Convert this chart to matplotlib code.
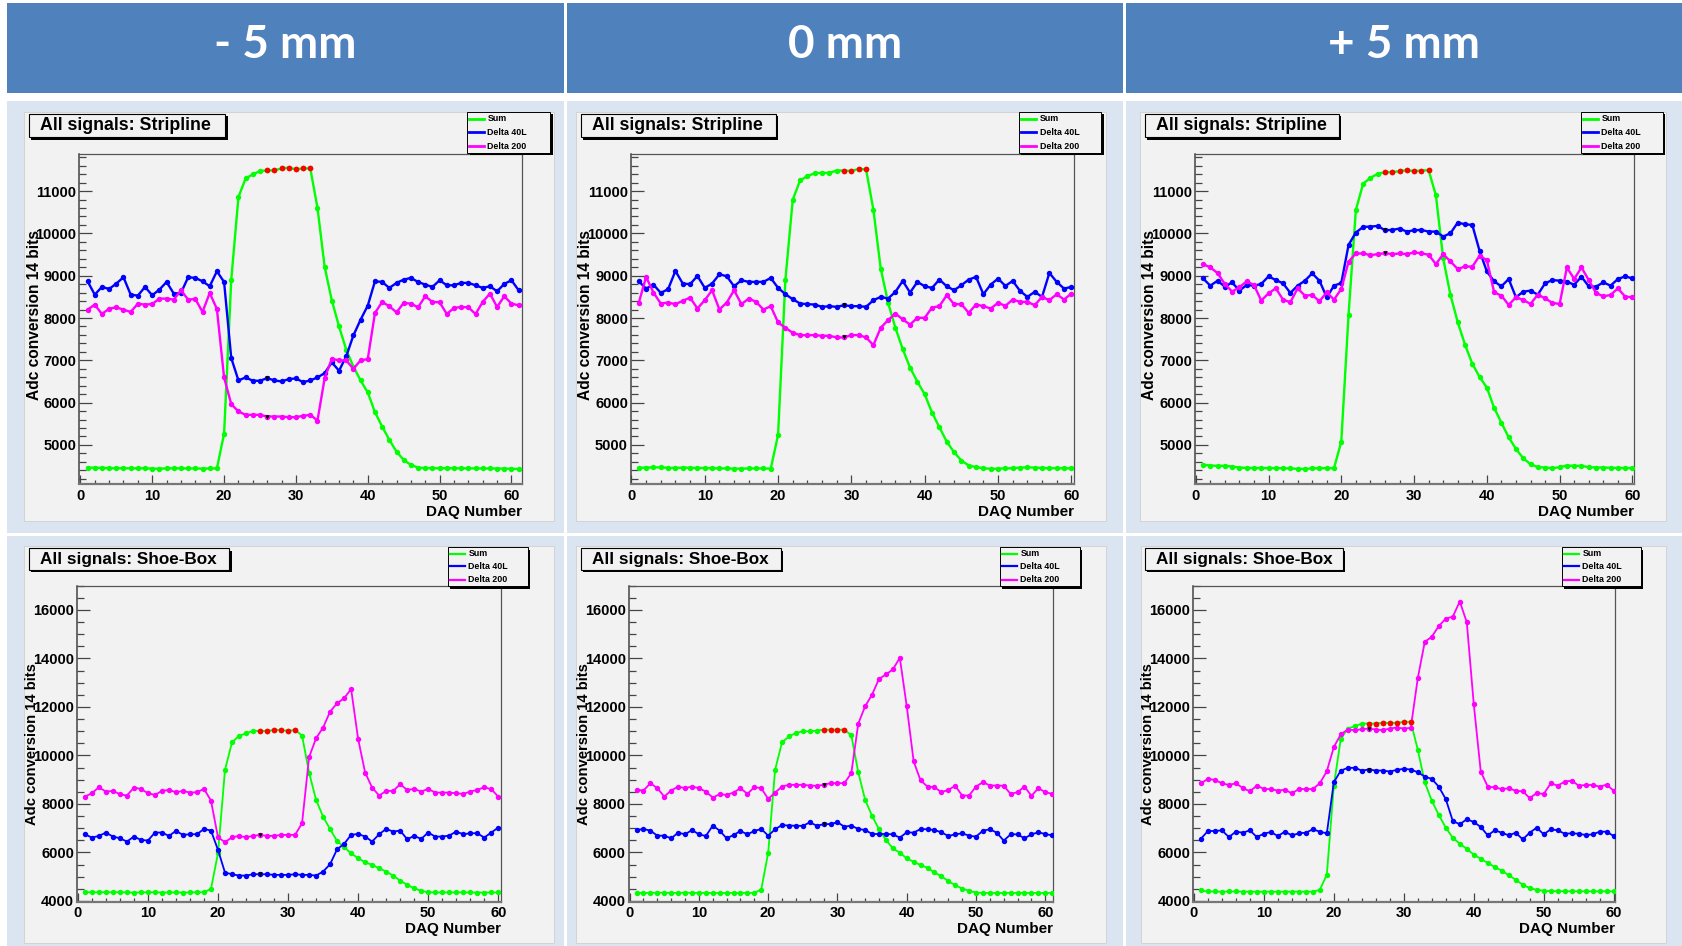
import numpy as np
import matplotlib
matplotlib.use("Agg")
import matplotlib.pyplot as plt
from matplotlib.patches import Rectangle
from matplotlib.lines import Line2D
from matplotlib.ticker import MultipleLocator

# ---------------- data ----------------
columns = ["- 5 mm", "0 mm", "+ 5 mm"]
row_titles = ["All signals: Stripline", "All signals: Shoe-Box"]
series_names = ["Sum", "Delta 40L", "Delta 200"]
x_title = "DAQ Number"
y_title = "Adc conversion 14 bits"

# Stripline, -5 mm (DAQ 1..61)
sum_strip_m5 = [4465, 4462, 4458, 4450, 4450, 4450, 4448, 4448, 4448, 4440,
                4440, 4445, 4448, 4448, 4445, 4445, 4440, 4445, 4445, 5262,
                8908, 10858, 11300, 11395, 11474, 11490, 11490, 11537, 11552, 11513,
                11537, 11537, 10605, 9208, 8411, 7803, 7251, 6850, 6525, 6240,
                5775, 5436, 5120, 4843, 4646, 4528, 4465, 4452, 4450, 4450,
                4450, 4450, 4448, 4448, 4445, 4445, 4445, 4442, 4440, 4438, 4432]
d40_strip_m5 = [8869, 8553, 8735, 8687, 8814, 8964, 8553, 8530, 8735, 8538,
                8672, 8853, 8577, 8593, 8964, 8948, 8869, 8751, 9106, 8853,
                7054, 6525, 6596, 6517, 6517, 6580, 6525, 6501, 6556, 6572,
                6485, 6525, 6596, 6698, 6951, 6754, 7093, 7590, 7961, 8293,
                8869, 8853, 8711, 8830, 8908, 8948, 8853, 8790, 8735, 8893,
                8774, 8774, 8830, 8830, 8774, 8711, 8751, 8632, 8806, 8893, 8656]
d200_strip_m5 = [8198, 8316, 8095, 8222, 8253, 8198, 8143, 8340, 8316, 8332,
                 8459, 8459, 8435, 8656, 8435, 8451, 8143, 8593, 8214, 6596,
                 5964, 5791, 5712, 5712, 5712, 5672, 5672, 5672, 5656, 5656,
                 5688, 5712, 5577, 6580, 7038, 6998, 6998, 6801, 6998, 7030,
                 8119, 8380, 8277, 8135, 8356, 8340, 8253, 8514, 8380, 8372,
                 8095, 8238, 8261, 8253, 8095, 8380, 8577, 8261, 8514, 8340, 8301]

# Stripline, 0 mm (DAQ 1..60)
sum_strip_0 = [4460, 4465, 4470, 4470, 4460, 4455, 4465, 4460, 4455, 4455,
               4450, 4445, 4445, 4440, 4440, 4445, 4445, 4445, 4440, 5237,
               8909, 10796, 11252, 11354, 11425, 11432, 11432, 11487, 11487, 11472,
               11527, 11511, 10560, 9168, 8366, 7769, 7266, 6825, 6495, 6196,
               5764, 5418, 5080, 4828, 4632, 4514, 4475, 4451, 4435, 4440,
               4445, 4450, 4465, 4470, 4465, 4455, 4450, 4450, 4448, 4448]
d40_strip_0 = [8869, 8696, 8791, 8594, 8681, 9113, 8815, 8799, 8995, 8712,
               8815, 9035, 8987, 8751, 8893, 8854, 8854, 8854, 8948, 8712,
               8563, 8445, 8343, 8327, 8319, 8264, 8280, 8264, 8303, 8280,
               8280, 8264, 8421, 8500, 8461, 8618, 8877, 8602, 8854, 8751,
               8712, 8909, 8751, 8657, 8775, 8909, 8972, 8563, 8791, 8932,
               8759, 8877, 8641, 8500, 8618, 8500, 9066, 8854, 8696, 8736]
d200_strip_0 = [8358, 8972, 8602, 8343, 8366, 8327, 8406, 8484, 8225, 8421,
                8657, 8201, 8366, 8657, 8327, 8461, 8382, 8201, 8280, 7895,
                7769, 7651, 7596, 7596, 7596, 7580, 7580, 7541, 7541, 7596,
                7596, 7541, 7360, 7769, 7950, 8107, 7966, 7847, 8005, 8005,
                8248, 8280, 8539, 8327, 8327, 8123, 8319, 8280, 8225, 8358,
                8288, 8437, 8382, 8382, 8303, 8500, 8421, 8563, 8437, 8578]

# Stripline, +5 mm (DAQ 1..60)
sum_strip_p5 = [4530, 4514, 4506, 4506, 4490, 4467, 4455, 4455, 4455, 4451,
                4451, 4451, 4445, 4435, 4435, 4445, 4451, 4451, 4451, 5079,
                8082, 10553, 11173, 11314, 11408, 11447, 11447, 11471, 11494, 11471,
                11486, 11494, 10898, 9408, 8545, 7902, 7369, 6922, 6608, 6357,
                5879, 5526, 5180, 4906, 4686, 4545, 4475, 4467, 4451, 4475,
                4514, 4506, 4506, 4475, 4467, 4467, 4460, 4455, 4455, 4451]
d40_strip_p5 = [8937, 8765, 8882, 8741, 8843, 8647, 8780, 8765, 8804, 8984,
                8898, 8820, 8592, 8765, 8882, 9055, 8882, 8490, 8765, 8827,
                9729, 10020, 10153, 10161, 10176, 10075, 10082, 10114, 10043, 10075,
                10082, 10043, 10043, 9926, 10004, 10255, 10216, 10200, 9588, 9102,
                8867, 8749, 8922, 8490, 8624, 8647, 8553, 8820, 8898, 8882,
                8859, 8788, 8976, 8749, 8741, 8843, 8765, 8922, 8984, 8937]
d200_strip_p5 = [9275, 9196, 9063, 8804, 8624, 8726, 8867, 8780, 8412, 8584,
                 8702, 8435, 8373, 8702, 8529, 8545, 8396, 8608, 8435, 8686,
                 9330, 9526, 9526, 9486, 9510, 9533, 9510, 9526, 9510, 9549,
                 9533, 9494, 9275, 9510, 9338, 9157, 9220, 9212, 9471, 9369,
                 8608, 8529, 8310, 8490, 8427, 8333, 8553, 8467, 8357, 8333,
                 9196, 8922, 9196, 8898, 8592, 8514, 8545, 8702, 8506, 8490]

# Shoe-Box, -5 mm (DAQ 1..60)
sum_shoe_m5 = [4357, 4357, 4357, 4357, 4357, 4357, 4350, 4345, 4350, 4357,
               4357, 4345, 4350, 4350, 4345, 4350, 4357, 4357, 4495, 5965,
               9402, 10543, 10804, 10914, 11010, 11010, 11010, 11051, 11051, 11010,
               11051, 10818, 9292, 8165, 7478, 6955, 6474, 6213, 5965, 5759,
               5594, 5484, 5347, 5209, 5044, 4838, 4660, 4522, 4412, 4357,
               4350, 4350, 4350, 4350, 4350, 4350, 4345, 4345, 4350, 4350]
d40_shoe_m5 = [6749, 6612, 6680, 6818, 6653, 6584, 6447, 6653, 6515, 6488,
               6818, 6818, 6680, 6887, 6722, 6749, 6749, 6969, 6900, 6103,
               5168, 5099, 5044, 5044, 5099, 5099, 5099, 5072, 5072, 5072,
               5099, 5072, 5072, 5044, 5209, 5512, 6131, 6351, 6722, 6763,
               6653, 6447, 6749, 6969, 6859, 6900, 6543, 6680, 6557, 6818,
               6653, 6653, 6694, 6859, 6749, 6790, 6790, 6612, 6818, 7024]
d200_shoe_m5 = [8302, 8440, 8687, 8509, 8536, 8399, 8344, 8674, 8618, 8440,
                8371, 8536, 8577, 8481, 8536, 8467, 8481, 8618, 8137, 6625,
                6419, 6625, 6680, 6625, 6680, 6722, 6680, 6680, 6722, 6722,
                6722, 7203, 9924, 10708, 11148, 11807, 12151, 12357, 12742, 10680,
                9292, 8674, 8344, 8536, 8536, 8811, 8577, 8618, 8509, 8618,
                8467, 8467, 8467, 8440, 8412, 8509, 8577, 8687, 8605, 8302]

# Shoe-Box, 0 mm (DAQ 1..61)
sum_shoe_0 = [4331, 4331, 4331, 4340, 4340, 4331, 4331, 4340, 4331, 4331,
              4331, 4325, 4325, 4325, 4331, 4331, 4331, 4331, 4469, 5986,
              9407, 10538, 10786, 10924, 10993, 10993, 11021, 11062, 11062, 11062,
              11062, 10828, 9310, 8166, 7503, 6952, 6510, 6166, 5986, 5752,
              5614, 5476, 5366, 5172, 5021, 4814, 4648, 4510, 4414, 4345,
              4331, 4325, 4325, 4331, 4331, 4331, 4331, 4331, 4325, 4325, 4331]
d40_shoe_0 = [6924, 6966, 6897, 6690, 6690, 6579, 6814, 6745, 6924, 6745,
              6676, 7103, 6897, 6579, 6717, 6883, 6745, 6883, 6966, 6690,
              6952, 7131, 7103, 7103, 7090, 7241, 7103, 7159, 7172, 7241,
              7062, 7103, 6966, 6924, 6759, 6759, 6759, 6745, 6607, 6828,
              6814, 6966, 6952, 6924, 6828, 6676, 6745, 6786, 6690, 6648,
              6897, 6952, 6814, 6483, 6745, 6745, 6579, 6745, 6828, 6759, 6700]
d200_shoe_0 = [8579, 8552, 8855, 8648, 8303, 8552, 8717, 8648, 8717, 8648,
               8510, 8262, 8400, 8372, 8469, 8648, 8414, 8690, 8648, 8207,
               8469, 8717, 8786, 8786, 8786, 8759, 8745, 8786, 8855, 8855,
               8855, 9269, 11310, 12028, 12510, 13159, 13338, 13545, 14028, 12028,
               9752, 8966, 8717, 8690, 8483, 8579, 8745, 8345, 8345, 8717,
               8896, 8759, 8759, 8745, 8414, 8483, 8717, 8331, 8648, 8483, 8414]

# Shoe-Box, +5 mm (DAQ 1..60)
sum_shoe_p5 = [4430, 4388, 4388, 4380, 4388, 4388, 4380, 4380, 4380, 4380,
               4380, 4380, 4380, 4380, 4380, 4380, 4380, 4457, 5081, 8753,
               10693, 11108, 11205, 11316, 11316, 11316, 11344, 11344, 11344, 11385,
               11385, 10235, 8891, 8129, 7547, 7021, 6605, 6355, 6148, 5912,
               5732, 5566, 5399, 5247, 5053, 4873, 4665, 4527, 4457, 4416,
               4402, 4402, 4402, 4395, 4395, 4395, 4395, 4395, 4395, 4395]
d40_shoe_p5 = [6563, 6882, 6882, 6910, 6633, 6855, 6813, 6910, 6633, 6771,
               6841, 6674, 6855, 6702, 6785, 6813, 6952, 6855, 6785, 8891,
               9376, 9487, 9487, 9376, 9418, 9376, 9376, 9335, 9404, 9446,
               9418, 9307, 9127, 9030, 8711, 8198, 7298, 7159, 7367, 7256,
               7048, 6702, 6910, 6813, 6702, 6813, 6536, 6813, 7021, 6744,
               6952, 6910, 6771, 6785, 6771, 6716, 6744, 6855, 6855, 6674]
d200_shoe_p5 = [8850, 9030, 8988, 8850, 8780, 8850, 8656, 8517, 8753, 8614,
                8614, 8545, 8587, 8434, 8614, 8614, 8614, 8850, 9349, 10346,
                10873, 11067, 11039, 11081, 11108, 11067, 11039, 11108, 11150, 11108,
                11136, 13187, 14684, 14892, 15335, 15640, 15723, 16346, 15501, 12120,
                9335, 8711, 8684, 8614, 8642, 8545, 8517, 8240, 8448, 8406,
                8850, 8753, 8919, 8960, 8753, 8780, 8780, 8711, 8794, 8545]

# DAQ ranges drawn in red on the Sum curve, and DAQ marked with a black triangle
plateau_strip = [(26, 32), (29, 32), (26, 32)]
marked_strip = [26, 29, 26]
plateau_shoe = [(26, 31), (28, 31), (25, 31)]
marked_shoe = [26, 28, 25]

# ---------------- style / layout ----------------
plt.rcParams['font.family'] = ['Liberation Sans', 'DejaVu Sans']
plt.rcParams['font.weight'] = 'bold'

W, H = 1683, 946
fig = plt.figure(figsize=(W / 100, H / 100), dpi=100)
fig.patch.set_facecolor('white')

HEADER = '#4f81bd'
CELL = '#dbe5f1'
PANEL = '#f2f2f2'
GREEN = '#00ff00'
BLUE = '#0000ff'
MAGENTA = '#ff00ff'
RED = '#ff0000'


def fx(x):
    return x / W


def fy(y):
    return 1 - y / H


def box(x0, y0, x1, y1, fc, ec='none', lw=0.0, z=-10):
    r = Rectangle((fx(x0), fy(y1)), fx(x1) - fx(x0), fy(y0) - fy(y1),
                  transform=fig.transFigure, facecolor=fc, edgecolor=ec,
                  linewidth=lw, zorder=z)
    fig.add_artist(r)


col_x = [(7.3, 564.0), (566.7, 1123.3), (1126.0, 1683.0)]
row_y = [(100.7, 533.3), (536.0, 946.0)]

# header cells
for (x0, x1), label in zip(col_x, columns):
    box(x0, 3.3, x1, 92.7, HEADER)
    fig.text(fx((x0 + x1) / 2), fy(57.5), label, color='white',
             family=['Lato', 'DejaVu Sans'], fontweight='bold', fontsize=33,
             ha='center', va='baseline')
# body cells
for (y0, y1) in row_y:
    for (x0, x1) in col_x:
        box(x0, y0, x1, y1, CELL)

panel_x = [[(24, 554), (576, 1106), (1140, 1666)],
           [(24, 554), (576, 1106), (1141, 1666)]]
panel_y = [(112, 521), (546, 942.5)]
frame_x = [[(79.3, 522.1), (630.7, 1074.3), (1195.0, 1634.3)],
           [(76.8, 500.7), (628.6, 1052.9), (1193.2, 1615.5)]]
frame_y = [(154.3, 484.3), (585.7, 901.5)]
xlims = [[(-0.15, 61.48), (-0.1, 60.4), (-0.1, 60.26)],
         [(-0.15, 60.35), (-0.15, 61.1), (-0.1, 60.26)]]
ylims = [(4070, 11870), (3975, 17000)]
ymajor = [1000, 2000]
yminor = [200, 500]
title_x = [[(29, 225), (581, 776), (1145, 1339)],
           [(29, 229), (581, 781), (1145, 1343)]]
title_y = [(114, 137), (548, 569.5)]
title_fs = [12.8, 12.3]
leg_x = [[(467, 550), (1019, 1101), (1581, 1663)],
         [(448, 528), (1000, 1080), (1562, 1641)]]
leg_y = [(112, 153), (547, 586)]
line_w = [1.7, 1.3]
ytitle_fs = [11.2, 10.6]
ytitle_dy = [161, 158]

data = [
    [(sum_strip_m5, d40_strip_m5, d200_strip_m5),
     (sum_strip_0, d40_strip_0, d200_strip_0),
     (sum_strip_p5, d40_strip_p5, d200_strip_p5)],
    [(sum_shoe_m5, d40_shoe_m5, d200_shoe_m5),
     (sum_shoe_0, d40_shoe_0, d200_shoe_0),
     (sum_shoe_p5, d40_shoe_p5, d200_shoe_p5)],
]
plateaus = [plateau_strip, plateau_shoe]
markeds = [marked_strip, marked_shoe]
colors = [GREEN, BLUE, MAGENTA]

for r in range(2):
    for c in range(3):
        # canvas panel
        px0, px1 = panel_x[r][c]
        py0, py1 = panel_y[r]
        box(px0, py0, px1, py1, PANEL, ec='#cfcfcf', lw=0.6, z=-5)

        fx0, fx1 = frame_x[r][c]
        fy0, fy1 = frame_y[r]
        ax = fig.add_axes([fx(fx0), fy(fy1), fx(fx1) - fx(fx0), fy(fy0) - fy(fy1)])
        ax.set_facecolor(PANEL)
        s, d40, d200 = data[r][c]
        for vals, col in zip((s, d40, d200), colors):
            xv = np.arange(1, len(vals) + 1)
            ax.plot(xv, vals, '-o', color=col, lw=line_w[r], ms=3.9, mew=0, zorder=3)
        xs = np.arange(1, len(s) + 1)
        sarr = np.array(s)
        lo, hi = plateaus[r][c]
        sel = (xs >= lo) & (xs <= hi)
        ax.plot(xs[sel], sarr[sel], 'o', color=RED, ms=4.1, mew=0, zorder=5)
        m = markeds[r][c]
        ax.plot([m, m], [d40[m - 1], d200[m - 1]], 'v', color='black', ms=3.2,
                mew=0, zorder=6)

        ax.set_xlim(*xlims[r][c])
        ax.set_ylim(*ylims[r])
        ax.xaxis.set_major_locator(MultipleLocator(10))
        ax.xaxis.set_minor_locator(MultipleLocator(2))
        ax.yaxis.set_major_locator(MultipleLocator(ymajor[r]))
        ax.yaxis.set_minor_locator(MultipleLocator(yminor[r]))
        ax.tick_params(which='both', direction='in', top=False, right=False,
                       color='#444444', width=0.9)
        ax.tick_params(axis='x', which='major', length=6.5, pad=3.5, labelsize=10.5)
        ax.tick_params(axis='x', which='minor', length=3.0)
        ax.tick_params(axis='y', which='major', length=9.0, pad=2, labelsize=10.5)
        ax.tick_params(axis='y', which='minor', length=5.0)
        ax.spines['left'].set_color('#444444')
        ax.spines['left'].set_linewidth(1.1)
        ax.spines['bottom'].set_color('#777777')
        ax.spines['bottom'].set_linewidth(1.6)
        for sp in ('top', 'right'):
            ax.spines[sp].set_color('#555555')
            ax.spines[sp].set_linewidth(0.9)

        # axis titles
        fig.text(fx(fx1), fy(fy1 + 27.8), x_title, ha='right', va='center',
                 fontsize=11, fontweight='bold')
        fig.text(fx(fx0 - 45), fy(fy0 + ytitle_dy[r]), y_title, rotation=90,
                 ha='center', va='center', fontsize=ytitle_fs[r], fontweight='bold')

        # title pave with shadow
        tx0, tx1 = title_x[r][c]
        ty0, ty1 = title_y[r]
        box(tx0 + 2.5, ty0 + 2.5, tx1 + 2.5, ty1 + 2.5, 'black', z=4)
        box(tx0, ty0, tx1, ty1, PANEL, ec='black', lw=0.8, z=5)
        fig.text(fx(tx0 + 11.5), fy((ty0 + ty1) / 2 + 0.5), row_titles[r],
                 ha='left', va='center', fontsize=title_fs[r], fontweight='bold',
                 zorder=6)

        # legend with shadow
        lx0, lx1 = leg_x[r][c]
        ly0, ly1 = leg_y[r]
        box(lx0 + 2.5, ly0 + 2.5, lx1 + 2.5, ly1 + 2.5, 'black', z=4)
        box(lx0, ly0, lx1, ly1, PANEL, ec='black', lw=0.7, z=5)
        hh = ly1 - ly0
        for k, (name, col) in enumerate(zip(series_names, colors)):
            yy = ly0 + hh * (1 + 2 * k) / 6.0
            fig.add_artist(Line2D([fx(lx0 + 2), fx(lx0 + 17.5)], [fy(yy), fy(yy)],
                                  color=col, lw=line_w[r] + 0.3,
                                  transform=fig.transFigure, zorder=6))
            fig.text(fx(lx0 + 20.5), fy(yy), name, ha='left', va='center',
                     fontsize=6.4, fontweight='bold', zorder=6)

fig.savefig('out.png', dpi=100, facecolor='white')
